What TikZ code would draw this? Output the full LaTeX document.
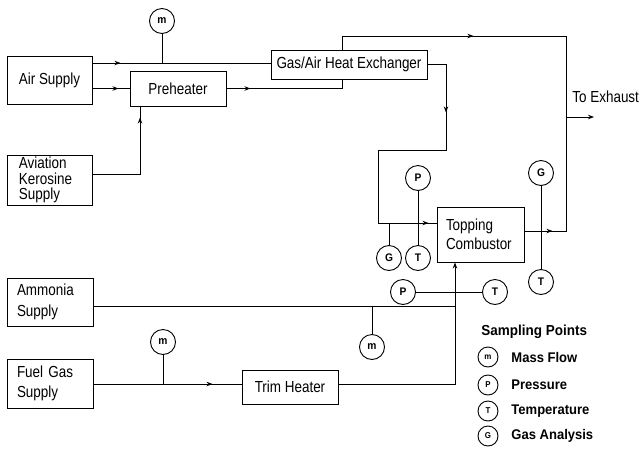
\documentclass[tikz,border=0pt]{standalone}
\usepackage{fontspec}
\setmainfont[FakeStretch=0.84]{Liberation Sans}
\newfontfamily\legfont[FakeStretch=0.93]{Liberation Sans}
\usetikzlibrary{arrows.meta,decorations.markings}
\tikzset{
  box/.style={draw, rectangle, inner sep=0pt, font=\fontsize{16}{18}\selectfont},
  lbox/.style={draw, rectangle, inner xsep=10pt, inner ysep=0pt, align=left, font=\fontsize{16}{#1}\selectfont},
  sens/.style={draw, circle, fill=white, minimum size=25pt, inner sep=0pt, font=\legfont\fontsize{11}{11}\selectfont\bfseries},
  lsens/.style={draw, circle, fill=white, minimum size=20pt, inner sep=0pt, font=\legfont\fontsize{8.5}{8.5}\selectfont\bfseries},
  legtxt/.style={anchor=west, inner sep=0pt, font=\legfont\fontsize{14}{14}\selectfont\bfseries},
  midarr/.style={postaction={decorate},decoration={markings,mark=at position #1 with {\arrow{Stealth[length=6pt,width=4.5pt]}}}}
}
\begin{document}
\begin{tikzpicture}[x=1pt,y=-1pt,line width=0.9pt]
\useasboundingbox[fill=white] (0,0) rectangle (641,448);

% blocks
\node[box, minimum width=85pt, minimum height=48pt] (air) at (49.5,80) {Air Supply};
\node[box, minimum width=96pt, minimum height=35pt] (pre) at (178,88.5) {Preheater};
\node[box, minimum width=156pt, minimum height=29pt] (gax) at (349,64.5) {Gas/Air Heat Exchanger};
\node[lbox=15.5, inner xsep=12pt, text width=61pt, minimum height=50pt] (kero) at (49.5,180) {Aviation\\Kerosine\\Supply};
\node[lbox=21, text width=66pt, minimum height=48pt] (amm) at (50,302) {Ammonia\\Supply};
\node[lbox=20, text width=66pt, minimum height=49pt] (fuel) at (50,383.5) {Fuel Gas\\Supply};
\node[box, minimum width=96pt, minimum height=34pt] (trim) at (290,387) {Trim Heater};
\node[lbox=19, inner xsep=9pt, text width=69pt, minimum height=55pt] (comb) at (480.5,234.5) {Topping\\Combustor};

\coordinate (junc) at (566,117);
\coordinate (exh) at (594,117);
\coordinate (ammj) at (455,306);
\node[anchor=west, inner sep=0pt, font=\fontsize{16}{16}\selectfont] (exhtxt) at (572,97) {To Exhaust};

% connectors
\draw[midarr=28pt] (air.east |- 0,63) -- (gax.west |- 0,63);
\draw[midarr=26pt] (air.east |- 0,88.5) -- (pre.west);
\draw[midarr=24pt] (pre.east) -| ([xshift=-7pt]gax.south);
\draw[midarr=104pt] (kero.east |- 0,174) -| ([xshift=-38pt]pre.south);
\draw[midarr=145pt] ([xshift=-7pt]gax.north) |- (566,36) -- (junc);
\draw[midarr=28pt] (comb.east |- 0,231) -- (566,231) -- (junc);
\draw[-{Stealth[length=6pt,width=4.5pt]}] (junc) -- (exh);
\draw[postaction={decorate},decoration={markings,
   mark=at position 66.5pt with {\arrow{Stealth[length=6pt,width=4.5pt]}},
   mark=at position 295.5pt with {\arrow{Stealth[length=6pt,width=4.5pt]}}}]
   (gax.east) -- (446,64.5) -- (446,150) -- (378,150) -- (378,223) -- (comb.west |- 0,223);
\draw[midarr=119pt] (fuel.east |- 0,384) -- (trim.west |- 0,384);
\draw[-{Stealth[length=6pt,width=4.5pt]}] (trim.east |- 0,384) -| ([xshift=-25.5pt]comb.south);
\draw (amm.east |- 0,306) -- (ammj);

% sampling points
\node[sens] (mc1) at (162,21) {m};
\node[sens] (pc1) at (418,178) {P};
\node[sens] (tc1) at (418,258) {T};
\node[sens] (gc1) at (389,258) {G};
\node[sens] (gc2) at (541,173) {G};
\node[sens] (tc2) at (541,282) {T};
\node[sens] (pc2) at (403,292) {P};
\node[sens] (tc3) at (495,292) {T};
\node[sens] (mc2) at (372,347) {m};
\node[sens] (mc3) at (163,342) {m};

\draw (mc1) -- (mc1 |- 0,63);
\draw (gc1) -- (gc1 |- 0,223);
\draw (pc1) -- (tc1);
\draw (gc2) -- (tc2);
\draw (pc2) -- (tc3);
\draw (mc2) -- (mc2 |- 0,306);
\draw (mc3) -- (mc3 |- 0,384);

% legend
\node[anchor=west, inner sep=0pt, font=\legfont\fontsize{14.5}{14.5}\selectfont\bfseries] (legtitle) at (481,332) {Sampling Points};
\node[lsens] (lm) at (488,357) {m};
\node[lsens] (lp) at (488,385) {P};
\node[lsens] (lt) at (488,411) {T};
\node[lsens] (lg) at (488,436) {G};
\node[legtxt] (lmt) at (511,357) {Mass Flow};
\node[legtxt] (lpt) at (511,385) {Pressure};
\node[legtxt] (ltt) at (511,411) {Temperature};
\node[legtxt] (lgt) at (511,436) {Gas Analysis};
\end{tikzpicture}
\end{document}
